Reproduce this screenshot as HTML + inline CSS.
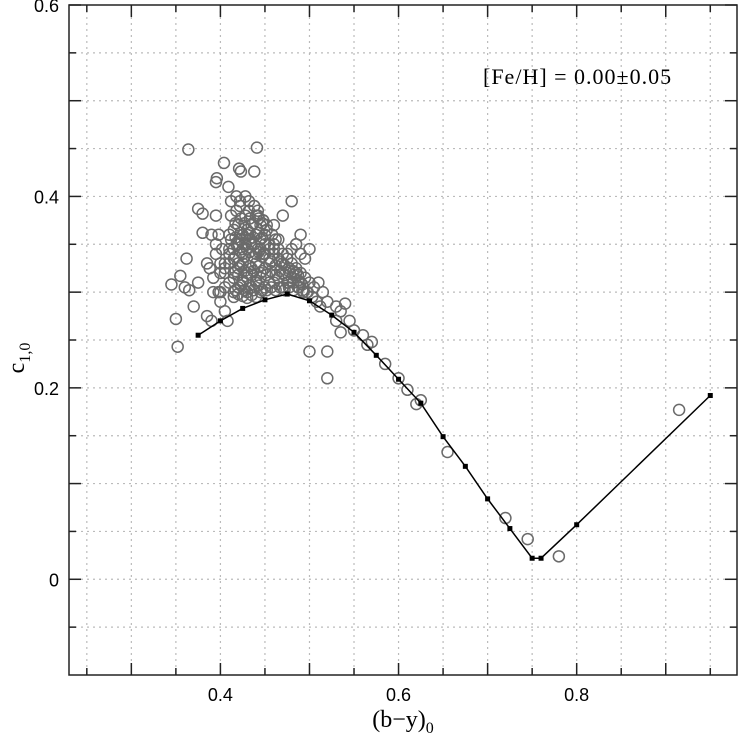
<!DOCTYPE html>
<html><head><meta charset="utf-8"><style>
html,body{margin:0;padding:0;background:#fff;}
svg{display:block;font-family:"Liberation Sans",sans-serif;}
</style></head><body>
<svg id="chart" width="740" height="736">
<g id="grid"></g>
<g id="ticks"></g>
<g id="labels"></g>
<g id="pts"></g>
<g id="line"></g>
<rect x="69" y="5" width="668" height="670" fill="none" stroke="#222" stroke-width="1.5"/>
<text x="483" y="84" font-size="22" letter-spacing="1" fill="#000" font-family="Liberation Serif, serif">[Fe/H] = 0.00±0.05</text>
<text x="403" y="727" font-size="24" text-anchor="middle" font-family="Liberation Serif, serif">(b−y)<tspan font-size="16" dy="6">0</tspan></text>
<text transform="translate(24,358) rotate(-90)" font-size="24" text-anchor="middle" font-family="Liberation Serif, serif">c<tspan font-size="16" dy="6">1,0</tspan></text>
</svg>
<script>
const xTicks=[0.4,0.6,0.8];
const yTicks=[0,0.2,0.4,0.6];
const lineX=[0.375,0.4,0.425,0.45,0.475,0.5,0.525,0.55,0.575,0.6,0.625,0.65,0.675,0.7,0.725,0.75,0.76,0.8,0.95];
const lineY=[0.255,0.270,0.283,0.292,0.298,0.291,0.276,0.258,0.234,0.209,0.184,0.149,0.118,0.084,0.053,0.022,0.022,0.057,0.192];
const ptX=[0.364,0.441,0.404,0.421,0.423,0.409,0.438,0.396,0.345,0.35,0.352,0.355,0.36,0.362,0.365,0.37,0.375,0.375,0.38,0.38,0.385,0.39,0.385,0.39,0.395,0.395,0.5,0.5,0.52,0.52,0.515,0.52,0.53,0.535,0.54,0.545,0.55,0.56,0.565,0.57,0.585,0.6,0.61,0.62,0.625,0.655,0.72,0.745,0.78,0.915,0.535,0.53,0.51,0.49,0.485,0.48,0.47,0.46,
0.40,0.405,0.41,0.415,0.42,0.425,0.43,0.435,0.44,0.445,0.45,0.455,0.40,0.405,0.41,0.415,0.42,0.425,0.43,0.435,0.44,0.445,0.45,0.455,0.46,0.465,0.47,0.475,0.48,0.485,0.49,0.495,0.50,0.505,
0.41,0.415,0.42,0.425,0.43,0.435,0.44,0.445,0.45,0.455,0.46,0.465,0.47,0.475,0.48,0.485,0.49,0.41,0.415,0.42,0.425,0.43,0.435,0.44,0.445,0.45,0.455,0.46,0.465,0.47,
0.412,0.418,0.422,0.428,0.432,0.438,0.442,0.448,0.452,0.458,0.462,0.412,0.418,0.422,0.428,0.432,0.438,0.442,0.448,0.452,0.412,0.418,0.422,0.428,0.432,0.438,0.442,0.448,0.415,0.42,0.425,0.43,0.435,0.44,0.445,0.415,0.42,0.425,0.43,0.435,0.44,
0.398,0.392,0.388,0.395,0.402,0.398,0.405,0.395,0.392,0.40,0.405,0.408,0.47,0.476,0.482,0.488,0.493,0.498,0.503,0.508,0.512,0.475,0.48,0.485,0.49,0.495,0.465,0.46,0.455,0.45,0.445,0.44,0.435,0.43,0.425,0.42,0.415,0.41,0.405,0.40,
0.417,0.423,0.427,0.433,0.437,0.443,0.447,0.417,0.423,0.427,0.433,0.437,0.443,0.447,0.417,0.423,0.427,0.433,0.437,0.443,0.447,0.417,0.423,0.427,0.433,0.437,0.443,0.447,0.417,0.423,0.427,0.433,0.437,0.443,0.447,
0.452,0.457,0.462,0.467,0.472,0.477,0.482,0.487,0.492,0.457,0.462,0.467,0.472,0.477,0.482,0.487,0.452,0.457,0.462,0.467,0.472,0.477,0.482,0.487,0.492,0.497];
const ptY=[0.449,0.451,0.435,0.429,0.426,0.41,0.426,0.419,0.308,0.272,0.243,0.317,0.305,0.335,0.302,0.285,0.31,0.387,0.362,0.382,0.275,0.27,0.33,0.36,0.38,0.415,0.345,0.238,0.238,0.21,0.3,0.29,0.285,0.28,0.288,0.27,0.26,0.255,0.245,0.248,0.225,0.21,0.198,0.183,0.187,0.133,0.064,0.042,0.024,0.177,0.258,0.27,0.31,0.36,0.35,0.395,0.38,0.37,
0.30,0.305,0.31,0.30,0.305,0.31,0.30,0.305,0.31,0.30,0.305,0.31,0.32,0.325,0.33,0.32,0.325,0.33,0.32,0.325,0.33,0.32,0.325,0.33,0.31,0.315,0.32,0.31,0.315,0.32,0.31,0.315,0.31,0.305,
0.34,0.345,0.35,0.34,0.345,0.35,0.34,0.345,0.34,0.335,0.34,0.335,0.33,0.335,0.33,0.325,0.32,0.36,0.365,0.37,0.36,0.365,0.37,0.36,0.355,0.35,0.345,0.35,0.345,0.34,
0.38,0.385,0.39,0.38,0.385,0.39,0.38,0.375,0.37,0.36,0.355,0.395,0.40,0.395,0.40,0.395,0.39,0.385,0.375,0.365,0.355,0.35,0.355,0.35,0.355,0.35,0.345,0.34,0.315,0.318,0.312,0.315,0.318,0.312,0.315,0.295,0.298,0.296,0.294,0.297,0.295,
0.30,0.315,0.325,0.34,0.345,0.36,0.33,0.35,0.3,0.29,0.28,0.27,0.305,0.31,0.31,0.305,0.3,0.3,0.295,0.29,0.285,0.34,0.345,0.35,0.34,0.335,0.355,0.345,0.35,0.36,0.37,0.38,0.37,0.36,0.345,0.33,0.335,0.345,0.32,0.33,
0.302,0.307,0.302,0.307,0.302,0.307,0.302,0.322,0.327,0.322,0.327,0.322,0.327,0.322,0.337,0.342,0.337,0.342,0.337,0.342,0.337,0.357,0.362,0.357,0.362,0.357,0.362,0.357,0.372,0.377,0.372,0.377,0.372,0.377,0.372,
0.318,0.322,0.318,0.322,0.318,0.322,0.318,0.312,0.308,0.332,0.328,0.332,0.328,0.325,0.322,0.318,0.302,0.305,0.302,0.305,0.302,0.305,0.302,0.305,0.302,0.3];
const X0=0.23,X1=0.98,Y0=-0.1,Y1=0.6,L=69,R=737,T=5,B=675;
const sx=v=>L+(v-X0)/(X1-X0)*(R-L);
const sy=v=>B-(v-Y0)/(Y1-Y0)*(B-T);
const NS='http://www.w3.org/2000/svg';
function mk(tag,at,parent){const e=document.createElementNS(NS,tag);for(const k in at)e.setAttribute(k,at[k]);parent.appendChild(e);return e;}
const grid=document.getElementById('grid'),ticks=document.getElementById('ticks'),labels=document.getElementById('labels');
for(let i=0;i<=14;i++){const v=0.25+i*0.05;if(v>X1)break;const x=sx(v);
 const g=mk('line',{x1:x,x2:x,y1:T,y2:B,stroke:'#bbb','stroke-width':1.2,'stroke-dasharray':'2,4'},grid);
 
 
 const major=Math.abs(Math.round(v*10)-v*10)<1e-6;const len=major?12:7;
 const t1=mk('line',{x1:x,x2:x,y1:B,y2:B-len,stroke:'#222','stroke-width':1.5},ticks);
 
 
 const t2=mk('line',{x1:x,x2:x,y1:T,y2:T+len,stroke:'#222','stroke-width':1.5},ticks);
 
 }
for(let i=-1;i<=12;i++){const v=i*0.05;const y=sy(v);
 if(v<Y1-1e-6&&v>Y0+1e-6){const g=mk('line',{x1:L,x2:R,y1:y,y2:y,stroke:'#bbb','stroke-width':1.2,'stroke-dasharray':'2,4'},grid);
 
 }
 const major=Math.abs(Math.round(v*10)-v*10)<1e-6;const len=major?12:7;
 const t1=mk('line',{x1:L,x2:L+len,y1:y,y2:y,stroke:'#222','stroke-width':1.5},ticks);
 
 
 const t2=mk('line',{x1:R,x2:R-len,y1:y,y2:y,stroke:'#222','stroke-width':1.5},ticks);
 
 }
xTicks.forEach(v=>{const t=mk('text',{x:sx(v),y:701,'font-size':18,'text-anchor':'middle'},labels);t.textContent=v.toFixed(1);
 
 });
yTicks.forEach(v=>{const t=mk('text',{x:59,y:sy(v)+7,'font-size':18,'text-anchor':'end'},labels);t.textContent=v===0?'0':v.toFixed(1);
 
 });
const pts=document.getElementById('pts');
ptX.forEach((v,i)=>{const c=mk('circle',{cx:sx(v),cy:sy(ptY[i]),r:5.5,fill:'none',stroke:'#6a6a6a','stroke-width':1.5},pts);
 
 });
const lg=document.getElementById('line');
const pl=mk('polyline',{points:lineX.map((v,i)=>sx(v)+','+sy(lineY[i])).join(' '),fill:'none',stroke:'#000','stroke-width':1.5},lg);


lineX.forEach((v,i)=>{const s=mk('rect',{x:sx(v)-2.5,y:sy(lineY[i])-2.5,width:5,height:5,fill:'#000'},lg);
 
 });
</script>
</body></html>
